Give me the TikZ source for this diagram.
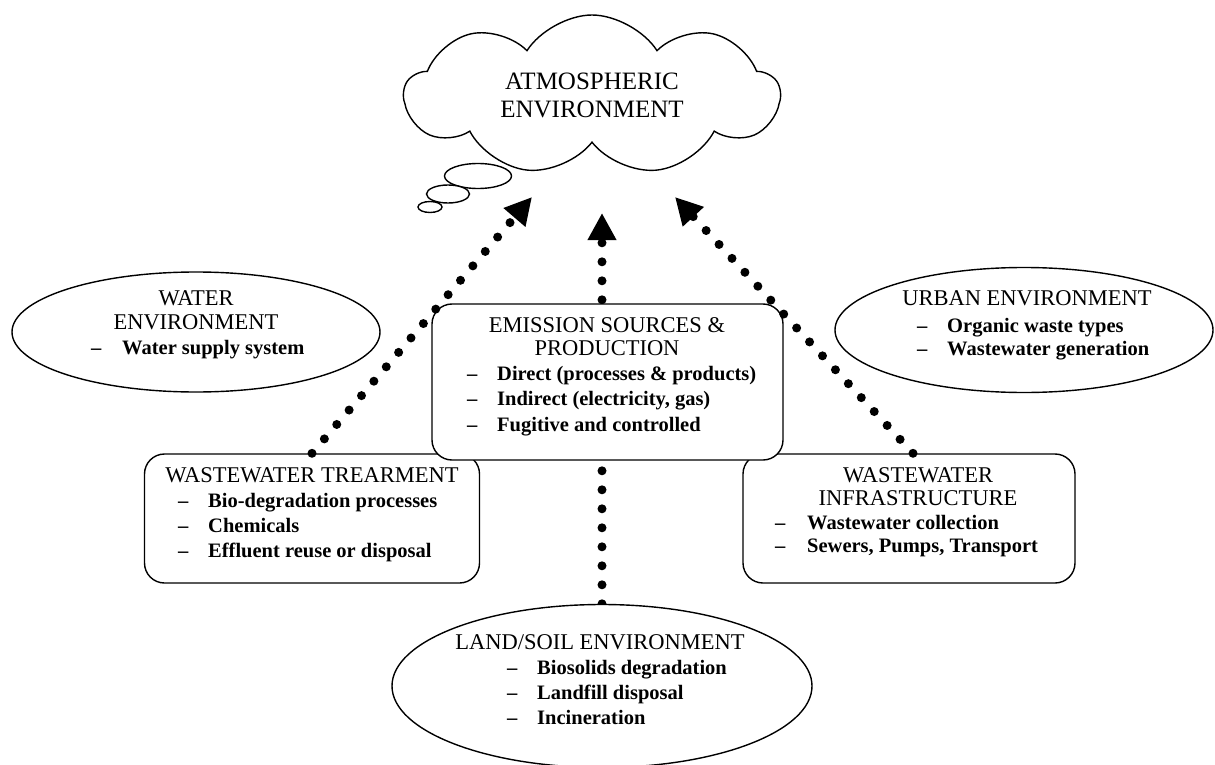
\documentclass[tikz,border=0pt]{standalone}
\usepackage{fontspec}
\setmainfont{Liberation Serif}
\usetikzlibrary{shapes.symbols,shapes.geometric,arrows.meta}
\pgfdeclarelayer{bg}
\pgfsetlayers{bg,main}
\begin{document}
\begin{tikzpicture}[x=1bp,y=-1bp,
  shp/.style={draw,line width=1.4bp,fill=white,inner sep=0pt},
  rbox/.style={shp,rectangle,rounded corners=20bp},
  oval/.style={shp,ellipse},
  ttl/.style={font=\fontsize{22.5bp}{26bp}\selectfont,anchor=mid,inner sep=0pt},
  itm/.style={font=\fontsize{20.5bp}{24bp}\selectfont\bfseries,anchor=mid west,inner sep=0pt},
  dotln/.style={line width=9bp,line cap=round,dash pattern=on 0bp off 19bp,-{Triangle[length=27bp,width=27bp]}}
]
\useasboundingbox (0,0) rectangle (1215,765);

% cloud and thought bubbles
\node[shp,cloud,cloud puffs=9,cloud puff arc=115,aspect=2.4,
      minimum width=375bp,minimum height=160bp,align=center,
      font=\fontsize{25bp}{28bp}\selectfont] (atm) at (592,95)
      {ATMOSPHERIC\\ENVIRONMENT};
\node[oval,minimum width=67bp,minimum height=25bp] (b1) at (478,176) {};
\node[oval,minimum width=43bp,minimum height=18bp] (b2) at (448,194) {};
\node[oval,minimum width=24bp,minimum height=11bp] (b3) at (430,207) {};

% ellipses
\node[oval,minimum width=368bp,minimum height=120bp] (water) at (196,332) {};
\node[oval,minimum width=378bp,minimum height=125bp] (urban) at (1024,330) {};
\node[oval,minimum width=420bp,minimum height=163bp] (land) at (602,686) {};

% boxes
\node[rbox,minimum width=335bp,minimum height=129bp] (wwt) at (312,518.5) {};
\node[rbox,minimum width=332bp,minimum height=129bp] (wwi) at (909,518.5) {};
\node[rbox,minimum width=351bp,minimum height=156bp] (emi) at (607.5,382) {};

% arrow tips
\coordinate (tipL) at (532,197);
\coordinate (tipC) at (602,213);
\coordinate (tipR) at (675,197);

\begin{pgfonlayer}{bg}
\draw[dotln] (land.north) -- (tipC);
\end{pgfonlayer}
\draw[dotln] (wwt.north) -- (tipL);
\draw[dotln] ([xshift=4bp]wwi.north) -- (tipR);

% water text
\node[ttl] (wa1) at (196,303) {WATER};
\node[ttl] (wa2) at (196,327) {ENVIRONMENT};
\node[itm] (wad) at (91,352) {–};
\node[itm] (wai) at (122,352) {Water supply system};

% urban text
\node[ttl] (ur1) at (1027,303) {URBAN ENVIRONMENT};
\node[itm] (urd1) at (917,330) {–};
\node[itm] (uri1) at (947,330) {Organic waste types};
\node[itm] (urd2) at (917,353) {–};
\node[itm] (uri2) at (947,353) {Wastewater generation};

% emission text
\node[ttl] (em1) at (607,330) {EMISSION SOURCES \&};
\node[ttl] (em2) at (607,353) {PRODUCTION};
\node[itm] (emd1) at (467,378) {–};
\node[itm] (emi1) at (497,378) {Direct (processes \& products)};
\node[itm] (emd2) at (467,403) {–};
\node[itm] (emi2) at (497,403) {Indirect (electricity, gas)};
\node[itm] (emd3) at (467,429) {–};
\node[itm] (emi3) at (497,429) {Fugitive and controlled};

% wastewater treatment text
\node[ttl] (wt1) at (312,480) {WASTEWATER TREARMENT};
\node[itm] (wtd1) at (178,505) {–};
\node[itm] (wti1) at (208,505) {Bio-degradation processes};
\node[itm] (wtd2) at (178,530) {–};
\node[itm] (wti2) at (208,530) {Chemicals};
\node[itm] (wtd3) at (178,555) {–};
\node[itm] (wti3) at (208,555) {Effluent reuse or disposal};

% wastewater infrastructure text
\node[ttl] (wi1) at (918,480) {WASTEWATER};
\node[ttl] (wi2) at (918,503) {INFRASTRUCTURE};
\node[itm] (wid1) at (775,527) {–};
\node[itm] (wii1) at (807,527) {Wastewater collection};
\node[itm] (wid2) at (775,550) {–};
\node[itm] (wii2) at (807,550) {Sewers, Pumps, Transport};

% land text
\node[ttl] (la1) at (600,647) {LAND/SOIL ENVIRONMENT};
\node[itm] (lad1) at (507,672) {–};
\node[itm] (lai1) at (537,672) {Biosolids degradation};
\node[itm] (lad2) at (507,697) {–};
\node[itm] (lai2) at (537,697) {Landfill disposal};
\node[itm] (lad3) at (507,722) {–};
\node[itm] (lai3) at (537,722) {Incineration};
\end{tikzpicture}
\end{document}
